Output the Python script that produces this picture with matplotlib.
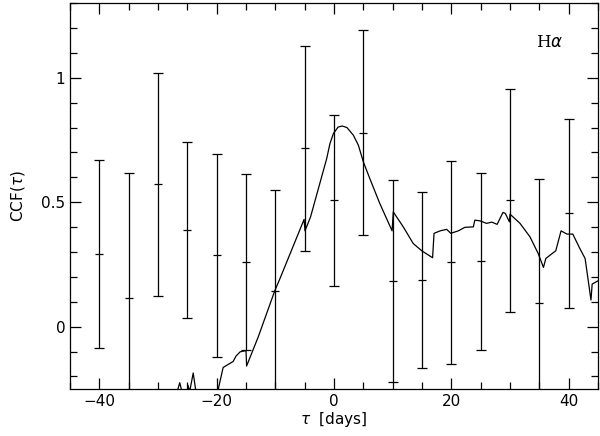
import numpy as np
import matplotlib.pyplot as plt
from matplotlib.ticker import MultipleLocator, FixedLocator

# error-bar points (lag, CCF value, symmetric error)
lags = [-40, -35, -30, -25, -20, -15, -10, -5, 0, 5, 10, 15, 20, 25, 30, 35, 40]
ccf_pts = [0.292, 0.116, 0.572, 0.388, 0.286, 0.260, 0.144, 0.716, 0.507,
           0.780, 0.182, 0.189, 0.258, 0.262, 0.507, 0.094, 0.455]
ccf_err = [0.378, 0.502, 0.447, 0.354, 0.408, 0.355, 0.407, 0.410, 0.344,
           0.410, 0.406, 0.353, 0.408, 0.354, 0.447, 0.500, 0.379]

# interpolated CCF curve
tau = [-27.2, -26.3, -25.5, -25.0, -24.9, -24.6, -24.0, -23.3, -22.5,
       -20.2, -18.9, -18.0, -17.2, -16.7, -16.0, -15.0, -14.9, -12.9, -10.1,
       -9.2, -5.1, -4.95, -4.0, -1.25, -0.7, -0.1, 0.7, 1.4, 2.2, 3.3, 4.15,
       5.0, 6.1, 7.8,
       9.9, 10.1, 11.8, 13.5, 15.0, 16.8, 17.05, 18.1, 19.2, 19.9, 21.2, 22.3,
       23.75, 24.0, 24.9, 26.0, 26.9, 27.8, 28.8, 29.2, 29.9, 30.0, 31.7, 33.4,
       34.8, 35.7, 36.1, 37.8, 38.7, 39.7, 40.7, 41.9, 42.8, 43.8, 44.0, 45.2]
ccf = [-0.30, -0.225, -0.30, -0.30, -0.235, -0.26, -0.186, -0.30, -0.30,
       -0.30, -0.164, -0.151, -0.140, -0.118, -0.101, -0.096, -0.158, -0.040, 0.144,
       0.194, 0.431, 0.385, 0.441, 0.675, 0.735, 0.776, 0.802, 0.806, 0.800, 0.769, 0.729,
       0.662, 0.595, 0.495,
       0.385, 0.461, 0.401, 0.334, 0.304, 0.277, 0.375, 0.385, 0.391, 0.375, 0.385, 0.399,
       0.401, 0.428, 0.425, 0.415, 0.420, 0.411, 0.459, 0.455, 0.421, 0.452, 0.415, 0.361,
       0.294, 0.238, 0.274, 0.305, 0.385, 0.372, 0.372, 0.314, 0.274, 0.107, 0.171, 0.187]

fig = plt.figure(figsize=(6, 4.36), dpi=100)
ax = fig.add_axes([0.1167, 0.108, 0.88, 0.885])

ax.plot(tau, ccf, color='black', lw=0.9)
ax.errorbar(lags, ccf_pts, yerr=ccf_err, fmt='_', color='black', ms=6,
            mew=0.9, elinewidth=0.9, capsize=3.3, capthick=0.9)

ax.set_xlim(-45, 45)
ax.set_ylim(-0.25, 1.3)
ax.xaxis.set_major_locator(MultipleLocator(20))
ax.xaxis.set_minor_locator(MultipleLocator(5))
ax.yaxis.set_major_locator(FixedLocator([0, 0.5, 1]))
ax.yaxis.set_minor_locator(MultipleLocator(0.1))
ax.set_yticklabels(['0', '0.5', '1'])
ax.tick_params(which='both', direction='in', top=True, right=True,
               labelsize=11, width=0.9)
ax.tick_params(which='major', length=8)
ax.tick_params(which='minor', length=5)
for s in ax.spines.values():
    s.set_linewidth(0.9)

ax.set_xlabel(r'$\tau$  [days]', fontsize=11, labelpad=1)
ax.set_ylabel(r'CCF($\tau$)', fontsize=11, labelpad=10)
ax.text(36.8, 1.14, r'H$\alpha$', fontsize=12, family='DejaVu Serif',
        ha='center', va='center')

fig.savefig('out.png', dpi=100)
